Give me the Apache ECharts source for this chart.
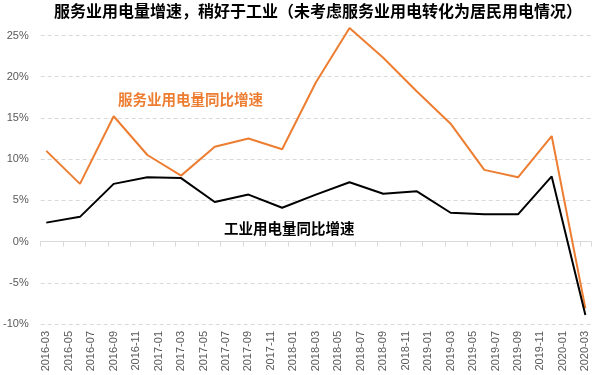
<!DOCTYPE html>
<html>
<head>
<meta charset="utf-8">
<script src="https://cdn.jsdelivr.net/npm/echarts@6/dist/echarts.min.js"></script>
<style>
html,body{margin:0;padding:0;background:#fff;}
#chart{width:600px;height:375px;}
</style>
</head>
<body>
<div id="chart"></div>
<script>
// Monthly category axis (labels shown every other month)
const months = [
  '2016-03','2016-04','2016-05','2016-06','2016-07','2016-08','2016-09','2016-10','2016-11','2016-12',
  '2017-01','2017-02','2017-03','2017-04','2017-05','2017-06','2017-07','2017-08','2017-09','2017-10','2017-11','2017-12',
  '2018-01','2018-02','2018-03','2018-04','2018-05','2018-06','2018-07','2018-08','2018-09','2018-10','2018-11','2018-12',
  '2019-01','2019-02','2019-03','2019-04','2019-05','2019-06','2019-07','2019-08','2019-09','2019-10','2019-11','2019-12',
  '2020-01','2020-02','2020-03'
];
// Quarterly observation dates
const quarters = [
  '2016-03','2016-06','2016-09','2016-12',
  '2017-03','2017-06','2017-09','2017-12',
  '2018-03','2018-06','2018-09','2018-12',
  '2019-03','2019-06','2019-09','2019-12',
  '2020-03'
];
// 服务业用电量同比增速 (%)
const serviceGrowth = [11.0, 7.0, 15.2, 10.5, 8.0, 11.5, 12.5, 11.2, 19.3, 25.9, 22.3, 18.2, 14.3, 8.7, 7.8, 12.8, -8.1];
// 工业用电量同比增速 (%)
const industryGrowth = [2.3, 3.0, 7.0, 7.8, 7.7, 4.8, 5.7, 4.1, 5.7, 7.2, 5.8, 6.1, 3.5, 3.3, 3.3, 7.9, -8.9];

const titleText = '服务业用电量增速，稍好于工业（未考虑服务业用电转化为居民用电情况）';
const serviceName = '服务业用电量同比增速';
const industryName = '工业用电量同比增速';

const chart = echarts.init(document.getElementById('chart'), null, {renderer: 'canvas'});
const cjk = '"Noto Sans CJK SC", "Noto Sans", sans-serif';
const latin = '"Liberation Sans", Arial, sans-serif';

chart.setOption({
  animation: false,
  backgroundColor: '#ffffff',
  title: {
    text: titleText,
    left: 54,
    top: 3,
    padding: 0,
    textStyle: {fontSize: 16, fontWeight: 'bold', color: '#000000', fontFamily: cjk}
  },
  grid: {left: 37, right: 9, top: 35.5, bottom: 51, containLabel: false},
  xAxis: [
    {
      type: 'category',
      data: months,
      boundaryGap: true,
      axisLine: {show: true, onZero: true, lineStyle: {color: '#d9d9d9', width: 1}},
      axisTick: {show: true, interval: 1, length: 5, lineStyle: {color: '#d9d9d9'}},
      axisLabel: {show: false},
      splitLine: {show: false}
    },
    {
      type: 'category',
      data: months,
      boundaryGap: true,
      position: 'bottom',
      axisLine: {show: false, onZero: false},
      axisTick: {show: false},
      axisLabel: {
        show: true, interval: 1, rotate: 90, margin: 7,
        fontSize: 11, color: '#595959', fontFamily: latin
      },
      splitLine: {show: false}
    }
  ],
  yAxis: {
    type: 'value',
    min: -10,
    max: 25,
    interval: 5,
    axisLine: {show: false},
    axisTick: {show: false},
    axisLabel: {formatter: '{value}%', fontSize: 11, color: '#595959', fontFamily: latin, margin: 12},
    splitLine: {show: true, lineStyle: {type: [4, 3], color: '#d9d9d9', width: 1}}
  },
  series: [
    {
      name: serviceName,
      type: 'line',
      xAxisIndex: 0,
      clip: false,
      data: quarters.map((q, i) => [q, serviceGrowth[i]]),
      symbol: 'none',
      lineStyle: {color: '#ED7D31', width: 2},
      itemStyle: {color: '#ED7D31'}
    },
    {
      name: industryName,
      type: 'line',
      xAxisIndex: 0,
      clip: false,
      data: quarters.map((q, i) => [q, industryGrowth[i]]),
      symbol: 'none',
      lineStyle: {color: '#000000', width: 2},
      itemStyle: {color: '#000000'}
    }
  ],
  graphic: [
    {
      type: 'text', left: 118, top: 92,
      style: {text: serviceName, fill: '#ED7D31', font: 'bold 14.5px ' + cjk}
    },
    {
      type: 'text', left: 224, top: 221,
      style: {text: industryName, fill: '#000000', font: 'bold 14.5px ' + cjk}
    }
  ]
});
</script>
</body>
</html>
